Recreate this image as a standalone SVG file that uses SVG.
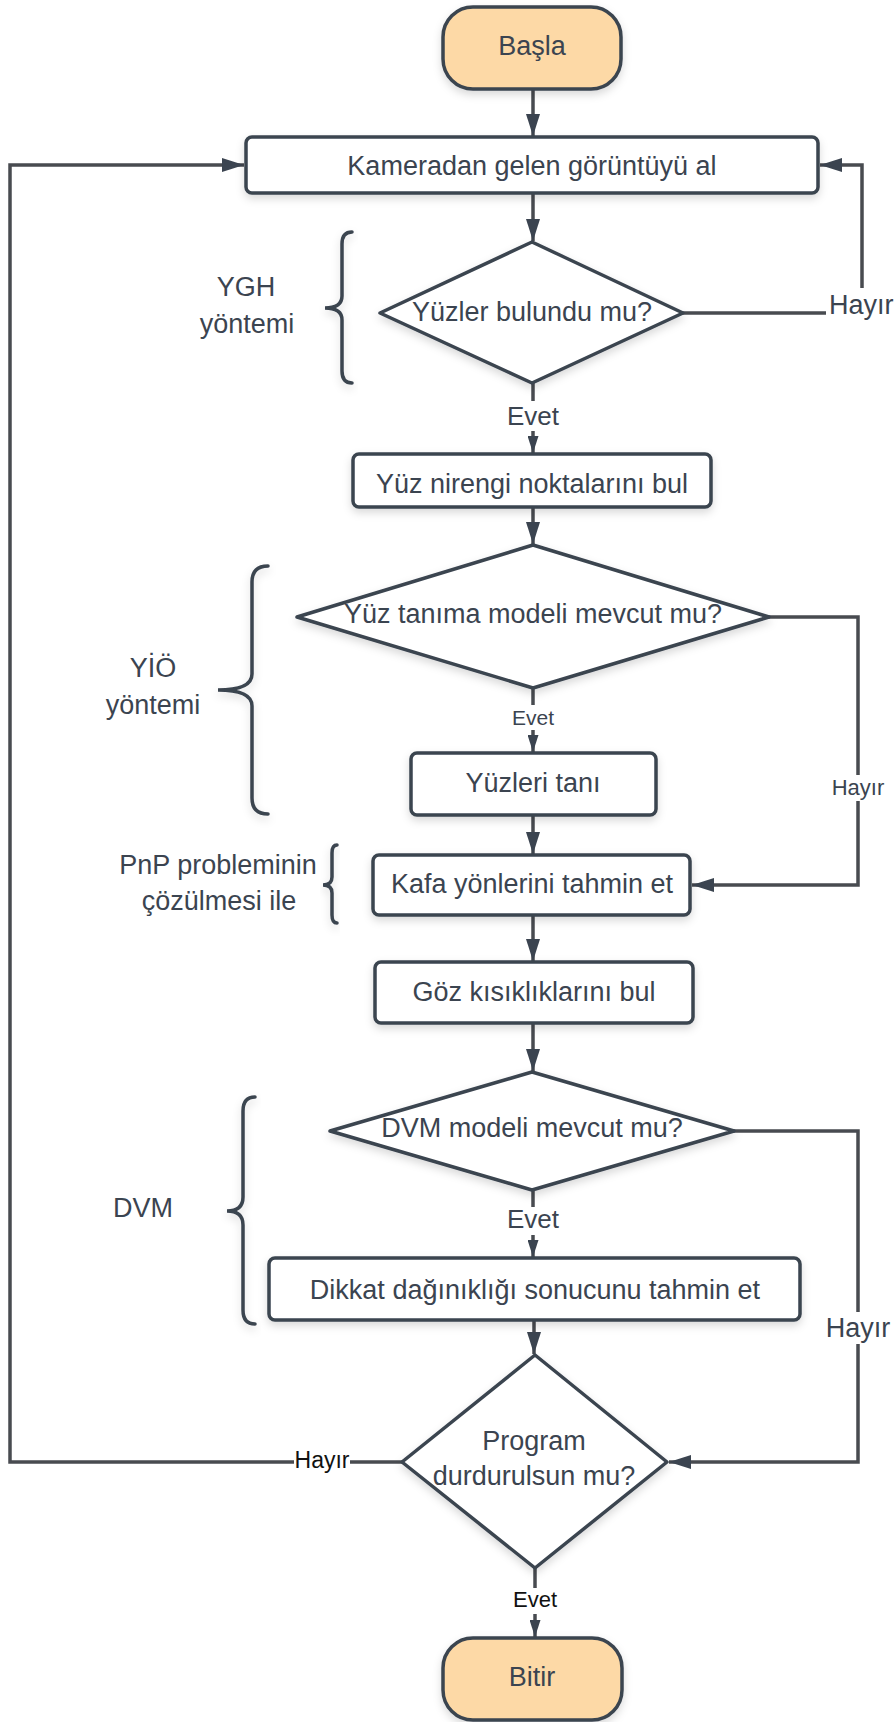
<svg xmlns="http://www.w3.org/2000/svg" width="895" height="1722" viewBox="0 0 895 1722">
<style>
.shape{fill:#ffffff;stroke:#3b4450;stroke-width:3.5;stroke-linejoin:round;filter:url(#sh)}
.term{fill:#fdd9a6;stroke:#3b4450;stroke-width:3.5;filter:url(#sh)}
.t{font-family:"Liberation Sans",Arial,sans-serif;font-size:27px;fill:#3b4450;text-anchor:middle}
.lbl{font-family:"Liberation Sans",Arial,sans-serif;fill:#3b4450;text-anchor:middle}
.blk{fill:#111111}
.c{fill:none;stroke:#484b50;stroke-width:3.5}
.brace{fill:none;stroke:#3b4450;stroke-width:3.5;stroke-linecap:round;filter:url(#sh)}
.bg{fill:#ffffff}
</style>
<defs>
<filter id="sh" x="-20%" y="-20%" width="140%" height="160%">
<feDropShadow dx="0" dy="4" stdDeviation="4" flood-color="#000" flood-opacity="0.15"/>
</filter>
<marker id="ab" markerUnits="userSpaceOnUse" markerWidth="22" markerHeight="14" refX="22" refY="7" orient="auto">
<path d="M0,0 L22,7 L0,14 z" fill="#3b4450"/>
</marker>
<marker id="as" markerUnits="userSpaceOnUse" markerWidth="17" markerHeight="11" refX="17" refY="5.5" orient="auto">
<path d="M0,0 L17,5.5 L0,11 z" fill="#3b4450"/>
</marker>
</defs>

<g id="connectors">
<path class="c" d="M533,89 V136" marker-end="url(#ab)"/>
<path class="c" d="M533,193 V241" marker-end="url(#ab)"/>
<path class="c" d="M533,383 V453" marker-end="url(#as)"/>
<path class="c" d="M533,507 V544" marker-end="url(#ab)"/>
<path class="c" d="M533,688 V752" marker-end="url(#as)"/>
<path class="c" d="M533,815 V854" marker-end="url(#ab)"/>
<path class="c" d="M533,915 V961" marker-end="url(#ab)"/>
<path class="c" d="M533,1023 V1071" marker-end="url(#ab)"/>
<path class="c" d="M533,1190 V1257" marker-end="url(#as)"/>
<path class="c" d="M534,1320 V1354" marker-end="url(#ab)"/>
<path class="c" d="M535,1568 V1637" marker-end="url(#as)"/>
<path class="c" d="M683,313 H862 V165 H820" marker-end="url(#ab)"/>
<path class="c" d="M769,617 H858 V885 H692" marker-end="url(#ab)"/>
<path class="c" d="M734,1131 H858 V1462 H669" marker-end="url(#ab)"/>
<path class="c" d="M402,1462 H10 V165 H244" marker-end="url(#ab)"/>
<rect class="bg" x="505" y="401" width="56" height="30"/>
<text class="lbl" x="533" y="425" font-size="26">Evet</text>
<rect class="bg" x="826" y="288" width="69" height="32"/>
<text class="lbl" x="829" y="314" font-size="27" text-anchor="start" style="text-anchor:start">Hayır</text>
<rect class="bg" x="508" y="705" width="50" height="25"/>
<text class="lbl" x="533" y="725" font-size="21">Evet</text>
<rect class="bg" x="830" y="775" width="56" height="26"/>
<text class="lbl" x="858" y="795" font-size="22">Hayır</text>
<rect class="bg" x="505" y="1207" width="56" height="28"/>
<text class="lbl" x="533" y="1228" font-size="26">Evet</text>
<rect class="bg" x="826" y="1312" width="64" height="32"/>
<text class="lbl" x="858" y="1337" font-size="27">Hayır</text>
<rect class="bg" x="294" y="1446" width="56" height="28"/>
<text class="lbl blk" x="322" y="1468" font-size="23">Hayır</text>
<rect class="bg" x="511" y="1588" width="48" height="26"/>
<text class="lbl blk" x="535" y="1607" font-size="22">Evet</text>
</g>

<g id="start">
<rect class="term" x="443" y="7" width="178" height="82" rx="30" ry="30"/>
<text class="t" x="532" y="55">Başla</text>
</g>
<g id="camera">
<rect class="shape" x="246" y="137" width="572" height="56" rx="6"/>
<text class="t" x="532" y="175">Kameradan gelen görüntüyü al</text>
</g>
<g id="faces-found">
<polygon class="shape" points="532,242 683,313 532,383 380,313"/>
<text class="t" x="532" y="321">Yüzler bulundu mu?</text>
</g>
<g id="landmarks">
<rect class="shape" x="353" y="454" width="358" height="53" rx="6"/>
<text class="t" x="532" y="493">Yüz nirengi noktalarını bul</text>
</g>
<g id="recog-model">
<polygon class="shape" points="533,545 769,617 533,688 297,617"/>
<text class="t" x="533" y="623">Yüz tanıma modeli mevcut mu?</text>
</g>
<g id="recognize">
<rect class="shape" x="411" y="753" width="245" height="62" rx="6"/>
<text class="t" x="533" y="792">Yüzleri tanı</text>
</g>
<g id="head-pose">
<rect class="shape" x="373" y="855" width="317" height="60" rx="6"/>
<text class="t" x="532" y="893">Kafa yönlerini tahmin et</text>
</g>
<g id="eyes">
<rect class="shape" x="375" y="962" width="318" height="61" rx="6"/>
<text class="t" x="534" y="1001">Göz kısıklıklarını bul</text>
</g>
<g id="svm-model">
<polygon class="shape" points="532,1072 734,1131 532,1190 330,1131"/>
<text class="t" x="532" y="1137">DVM modeli mevcut mu?</text>
</g>
<g id="distraction">
<rect class="shape" x="269" y="1258" width="531" height="62" rx="6"/>
<text class="t" x="535" y="1299">Dikkat dağınıklığı sonucunu tahmin et</text>
</g>
<g id="stop">
<polygon class="shape" points="535,1355 667,1462 535,1568 402,1462"/>
<text class="t" x="534" y="1450">Program</text>
<text class="t" x="534" y="1485">durdurulsun mu?</text>
</g>
<g id="end">
<rect class="term" x="443" y="1638" width="179" height="82" rx="30" ry="30"/>
<text class="t" x="532" y="1686">Bitir</text>
</g>

<g id="brace-ygh">
<path class="brace" d="M352,232 Q342,232 342,244 V296 Q342,308 325,308 Q342,308 342,320 V371 Q342,383 352,383"/>
<text class="t" x="246" y="296">YGH</text>
<text class="t" x="247" y="333">yöntemi</text>
</g>
<g id="brace-yio">
<path class="brace" d="M268,566 Q252,566 252,582 V674 Q252,690 218,690 Q252,690 252,706 V798 Q252,814 268,814"/>
<text class="t" x="153" y="677">YİÖ</text>
<text class="t" x="153" y="714">yöntemi</text>
</g>
<g id="brace-pnp">
<path class="brace" d="M337,845 Q332,845 332,853 V877 Q332,885 323,885 Q332,885 332,893 V915 Q332,923 337,923"/>
<text class="t" x="218" y="874">PnP probleminin</text>
<text class="t" x="219" y="910">çözülmesi ile</text>
</g>
<g id="brace-dvm">
<path class="brace" d="M255,1097 Q243,1097 243,1111 V1197 Q243,1211 227,1211 Q243,1211 243,1225 V1310 Q243,1324 255,1324"/>
<text class="t" x="143" y="1217">DVM</text>
</g>
</svg>
